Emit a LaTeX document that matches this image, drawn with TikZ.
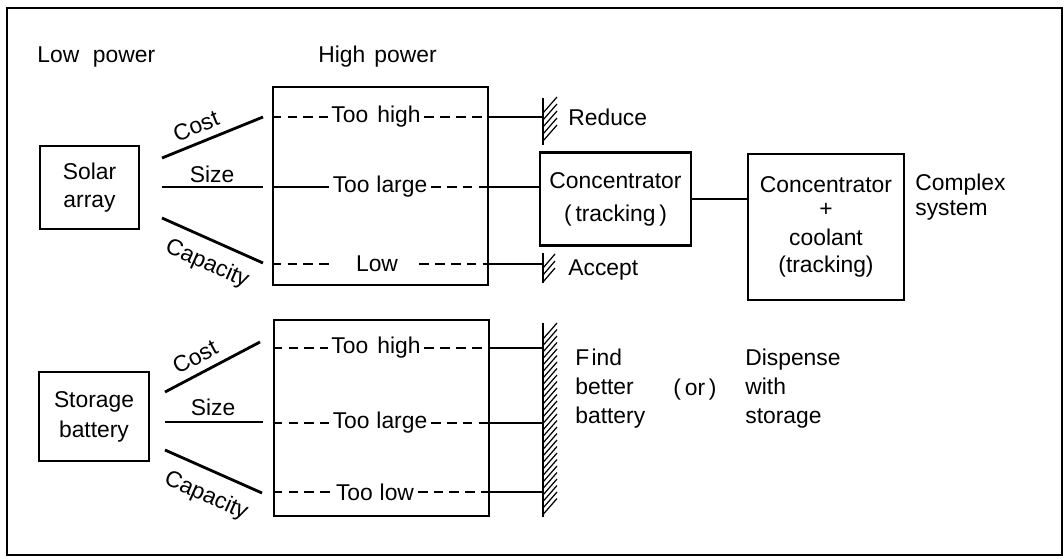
\documentclass[tikz,border=0pt]{standalone}
\usepackage{fontspec}
\setmainfont{Liberation Sans}
\begin{document}
\begin{tikzpicture}[x=0.02cm,y=-0.02cm,
  font=\fontsize{13}{15}\selectfont,
  box/.style={draw, line width=1.5pt, inner sep=0pt, align=center},
  conn/.style={line width=1.3pt},
  branch/.style={line width=1.6pt},
  dsh/.style={line width=1pt, dash pattern=on 5.5pt off 3.5pt},
  sld/.style={line width=1pt},
  lbl/.style={inner sep=1pt},
  txt/.style={inner sep=0pt, anchor=west, align=left},
  wall/.style={line width=1.3pt},
  hatchline/.style={line width=0.7pt}]
\useasboundingbox (0,0) rectangle (1064,558);
\draw[line width=1pt] (7,8) rectangle (1062,555);

% headings
\node[txt] (lowp) at (37,57) {Low\hspace{0.6em}power};
\node[txt] (highp) at (318,57) {High\hspace{0.4em}power};

% left boxes
\node[box, minimum width=1.98cm, minimum height=1.66cm, font=\fontsize{13}{16}\selectfont] (solar) at (89.5,187.5) {Solar\\array};
\node[box, minimum width=2.2cm, minimum height=1.78cm, font=\fontsize{13}{17}\selectfont] (stor) at (94,416.5) {Storage\\battery};

% big boxes
\node[box, minimum width=4.3cm, minimum height=3.96cm] (hp1) at (380.5,186) {};
\node[box, minimum width=4.3cm, minimum height=3.92cm] (hp2) at (381.5,418) {};

% concentrator boxes
\node[box, minimum width=3.02cm, minimum height=1.86cm, font=\fontsize{13}{18.7}\selectfont] (conc) at (615.5,199) {Concentrator\\(\,tracking\,)};
\node[box, minimum width=3.12cm, minimum height=2.92cm, font=\fontsize{13}{15.5}\selectfont] (conc2) at (826,227) {Concentrator\\[-2pt]+\\[1pt]coolant\\(tracking)};
\node[txt, font=\fontsize{13}{14.2}\selectfont] (cplx) at (915,197.5) {Complex\\system};

% branch lines, top
\coordinate (c1a) at (162,158); \coordinate (c1b) at (263,117);
\coordinate (s1a) at (162,187); \coordinate (s1b) at (263,187);
\coordinate (p1a) at (162,218); \coordinate (p1b) at (263,263);
\draw[branch] (c1a) -- (c1b);
\draw[branch] (s1a) -- (s1b);
\draw[branch] (p1a) -- (p1b);
\node[lbl, rotate=22] (cost1) at (196,126) {Cost};
\node[lbl] (size1) at (212,174) {Size};
\node[lbl, rotate=-24] (cap1) at (207,264) {Capacity};

% branch lines, bottom
\coordinate (c2a) at (165,392); \coordinate (c2b) at (260,342);
\coordinate (s2a) at (165,422); \coordinate (s2b) at (263,422);
\coordinate (p2a) at (165,450); \coordinate (p2b) at (262,493);
\draw[branch] (c2a) -- (c2b);
\draw[branch] (s2a) -- (s2b);
\draw[branch] (p2a) -- (p2b);
\node[lbl, rotate=28] (cost2) at (195,357) {Cost};
\node[lbl] (size2) at (213,407) {Size};
\node[lbl, rotate=-24] (cap2) at (206,496) {Capacity};

% rows of top big box
\node[lbl, inner sep=2pt] (th1) at (376,117) {Too\hspace{0.4em}high};
\node[lbl, inner sep=2pt] (tl1) at (380,187) {Too\hspace{0.3em}large};
\node[lbl, inner sep=2pt] (lo1) at (377,264) {Low};
\draw[dsh] (hp1.west |- th1) -- (th1.west);
\draw[dsh] (th1.east) -- (hp1.east |- th1);
\draw[sld] (hp1.west |- tl1) -- (tl1.west);
\draw[dsh] (tl1.east) -- (hp1.east |- tl1);
\draw[dsh] (hp1.west |- lo1) -- ([xshift=-10pt]lo1.west);
\draw[dsh] ([xshift=10pt]lo1.east) -- (hp1.east |- lo1);

% rows of bottom big box
\node[lbl, inner sep=2pt] (th2) at (376,348) {Too\hspace{0.4em}high};
\node[lbl, inner sep=2pt] (tl2) at (380,423) {Too\hspace{0.3em}large};
\node[lbl, inner sep=2pt] (tw2) at (375,492) {Too\hspace{0.3em}low};
\draw[dsh] (hp2.west |- th2) -- (th2.west);
\draw[dsh] (th2.east) -- (hp2.east |- th2);
\draw[dsh] (hp2.west |- tl2) -- (tl2.west);
\draw[dsh] (tl2.east) -- (hp2.east |- tl2);
\draw[dsh] (hp2.west |- tw2) -- (tw2.west);
\draw[dsh] (tw2.east) -- (hp2.east |- tw2);

% walls
\coordinate (wRt) at (543,98);  \coordinate (wRb) at (543,145);
\coordinate (wAt) at (543,253); \coordinate (wAb) at (543,283);
\coordinate (wBt) at (543,323); \coordinate (wBb) at (543,517);
\draw[wall] (wRt) -- (wRb);
\draw[wall] (wAt) -- (wAb);
\draw[wall] (wBt) -- (wBb);
\foreach \yy in {113,120,127,134,141} \draw[hatchline] (543,\yy) -- ++(14,-16);
\foreach \yy in {268,275,282} \draw[hatchline] (543,\yy) -- ++(12,-14);
\foreach \i in {0,...,27} \draw[hatchline] (543,{339+6.5*\i}) -- ++(14,-16);

% connectors from big boxes
\draw[conn] (hp1.east |- th1) -- (wRt |- th1);
\draw[conn] (hp1.east |- tl1) -- (conc.west |- tl1);
\draw[conn] (hp1.east |- lo1) -- (wAt |- lo1);
\draw[conn] (hp2.east |- th2) -- (wBt |- th2);
\draw[conn] (hp2.east |- tl2) -- (wBt |- tl2);
\draw[conn] (hp2.east |- tw2) -- (wBt |- tw2);
\draw[conn] (conc.east) -- (conc2.west |- conc.east);

% outcome labels
\node[txt] (red) at (568,117) {Reduce};
\node[txt] (acc) at (568,270) {Accept};
\node[txt, font=\fontsize{13}{16.5}\selectfont] (find) at (575,389) {F\hspace{0.1em}ind\\better\\battery};
\node[lbl] (or) at (695,390) {(\,or\,)};
\node[txt, font=\fontsize{13}{16.5}\selectfont] (disp) at (745,389) {Dispense\\with\\storage};
\end{tikzpicture}
\end{document}
